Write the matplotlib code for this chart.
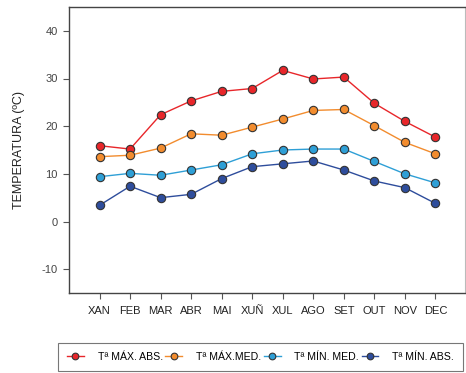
import matplotlib
matplotlib.use("Agg")
import matplotlib.pyplot as plt

plt.rcParams["font.family"] = ["Liberation Sans", "DejaVu Sans"]
plt.rcParams["axes.unicode_minus"] = False

months = ["XAN", "FEB", "MAR", "ABR", "MAI", "XUÑ", "XUL", "AGO", "SET", "OUT", "NOV", "DEC"]
max_abs = [15.9, 15.2, 22.4, 25.3, 27.3, 27.9, 31.7, 29.9, 30.3, 24.8, 21.0, 17.7]
max_med = [13.6, 13.9, 15.4, 18.4, 18.1, 19.8, 21.5, 23.3, 23.5, 20.1, 16.6, 14.2]
min_med = [9.4, 10.1, 9.7, 10.8, 11.9, 14.2, 15.0, 15.2, 15.2, 12.6, 10.0, 8.1]
min_abs = [3.4, 7.4, 5.0, 5.7, 9.0, 11.5, 12.1, 12.7, 10.8, 8.5, 7.1, 3.8]
labels = ["Tª MÁX. ABS.", "Tª MÁX.MED.", "Tª MÍN. MED.", "Tª MÍN. ABS."]
colors = ["#e8262a", "#f28c2e", "#2e9fd6", "#2e4d9c"]
yticks = [-10, 0, 10, 20, 30, 40]

W, H = 466, 373
fig = plt.figure(figsize=(W / 100, H / 100), dpi=100)
ax = fig.add_axes([69 / W, 1 - 293 / H, (465 - 69) / W, (293 - 7) / H])

x = list(range(1, len(months) + 1))
for vals, lab, c in zip([max_abs, max_med, min_med, min_abs], labels, colors):
    ax.plot(x, vals, color=c, lw=1.0, marker="o", markersize=6.0,
            markerfacecolor=c, markeredgecolor="#333333", markeredgewidth=0.8, label=lab)

ax.set_xlim(0, 12.97)
ax.set_ylim(-15, 45)
ax.set_xticks(x)
ax.set_xticklabels(months)
ax.set_yticks(yticks)
ax.tick_params(axis="both", direction="out", length=4, width=0.8, color="#555555",
               labelsize=8, pad=4)
ax.tick_params(axis="y", labelcolor="#444444")
ax.tick_params(axis="x", labelcolor="#222222", pad=5)
for s in ["left", "top", "bottom"]:
    ax.spines[s].set_color("#444444")
    ax.spines[s].set_linewidth(1.0)
ax.spines["right"].set_color("#bbbbbb")
ax.spines["right"].set_linewidth(0.8)
ax.yaxis.set_label_coords(-44 / 396, 0.5)
ax.set_ylabel("TEMPERATURA (ºC)", fontsize=9, color="#222222")

leg = fig.legend(loc="upper left", bbox_to_anchor=(58 / W, 1 - 343 / H), ncol=4,
                 fontsize=7.6, frameon=True, fancybox=False, edgecolor="#555555",
                 handlelength=1.6, handletextpad=1.3, columnspacing=0.25,
                 borderpad=0.85, borderaxespad=0, markerscale=0.8)
leg.get_frame().set_linewidth(0.8)

fig.savefig("out.png", dpi=100)
